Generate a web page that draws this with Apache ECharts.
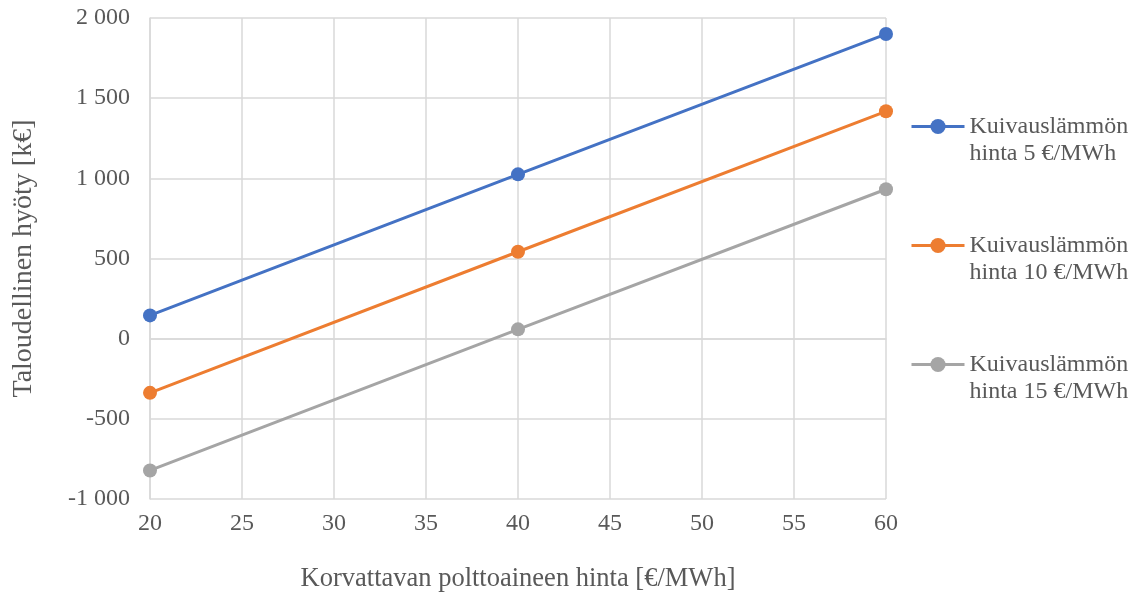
<!DOCTYPE html>
<html>
<head>
<meta charset="utf-8">
<script src="https://cdn.jsdelivr.net/npm/echarts@6/dist/echarts.min.js"></script>
<style>
  html, body { margin: 0; padding: 0; background: #fff; }
  #chart { width: 1135px; height: 592px; }
</style>
</head>
<body>
<div id="chart"></div>
<script>
// Fuel price on the x axis (€/MWh)
const fuelPrices = [20, 40, 60];

// Economic benefit (k€) for each drying-heat price
const seriesNames = [
  'Kuivauslämmön\nhinta 5 €/MWh',
  'Kuivauslämmön\nhinta 10 €/MWh',
  'Kuivauslämmön\nhinta 15 €/MWh'
];
const benefit5 = [145, 1025, 1900];
const benefit10 = [-338, 542, 1418];
const benefit15 = [-822, 58, 932];
const seriesColors = ['#4472c4', '#ed7d31', '#a5a5a5'];

const xTicks = { min: 20, max: 60, interval: 5 };
const yTicks = { min: -1000, max: 2000, interval: 500 };

const fontFamily = '"Liberation Serif", "Times New Roman", serif';
const textColor = '#595959';

function formatThousands(v) {
  const sign = v < 0 ? '-' : '';
  const s = String(Math.abs(v));
  return sign + s.replace(/\B(?=(\d{3})+(?!\d))/g, ' ');
}

const values = [benefit5, benefit10, benefit15];

const chart = echarts.init(document.getElementById('chart'), null, { renderer: 'canvas' });

chart.setOption({
  backgroundColor: '#ffffff',
  animation: false,
  grid: {
    left: 150, right: 249, top: 18, bottom: 93,
    containLabel: false,
    outerBoundsMode: 'none'
  },
  xAxis: {
    type: 'value',
    min: xTicks.min, max: xTicks.max, interval: xTicks.interval,
    name: 'Korvattavan polttoaineen hinta [€/MWh]',
    nameLocation: 'middle',
    nameGap: 67,
    nameTextStyle: { fontFamily, fontSize: 26.5, color: textColor },
    axisLine: { show: true, lineStyle: { color: '#d9d9d9', width: 1.5 } },
    axisTick: { show: false },
    axisLabel: { fontFamily, fontSize: 24, color: textColor, margin: 13 },
    splitLine: { show: true, lineStyle: { color: '#d9d9d9', width: 1.5 } }
  },
  yAxis: {
    type: 'value',
    min: yTicks.min, max: yTicks.max, interval: yTicks.interval,
    name: 'Taloudellinen hyöty [k€]',
    nameLocation: 'middle',
    nameGap: 112,
    nameTextStyle: { fontFamily, fontSize: 28, color: textColor },
    axisLine: { show: true, lineStyle: { color: '#d9d9d9', width: 1.5 } },
    axisTick: { show: false },
    axisLabel: { fontFamily, fontSize: 24, color: textColor, margin: 20, formatter: formatThousands },
    splitLine: { show: true, lineStyle: { color: '#d9d9d9', width: 1.5 } }
  },
  legend: {
    orient: 'vertical',
    left: 910,
    top: 86,
    padding: 0,
    itemWidth: 53,
    itemHeight: 19,
    itemGap: 38,
    lineStyle: { width: 3 },
    // leading blank line keeps the marker level with the first text line
    formatter: name => '\n' + name,
    textStyle: { fontFamily, fontSize: 24, color: textColor, lineHeight: 27 },
    data: seriesNames
  },
  series: seriesNames.map((name, i) => ({
    name,
    type: 'line',
    data: fuelPrices.map((x, j) => [x, values[i][j]]),
    symbol: 'circle',
    symbolSize: 14,
    color: seriesColors[i],
    lineStyle: { width: 3, color: seriesColors[i] },
    itemStyle: { color: seriesColors[i] }
  }))
});
</script>
</body>
</html>
